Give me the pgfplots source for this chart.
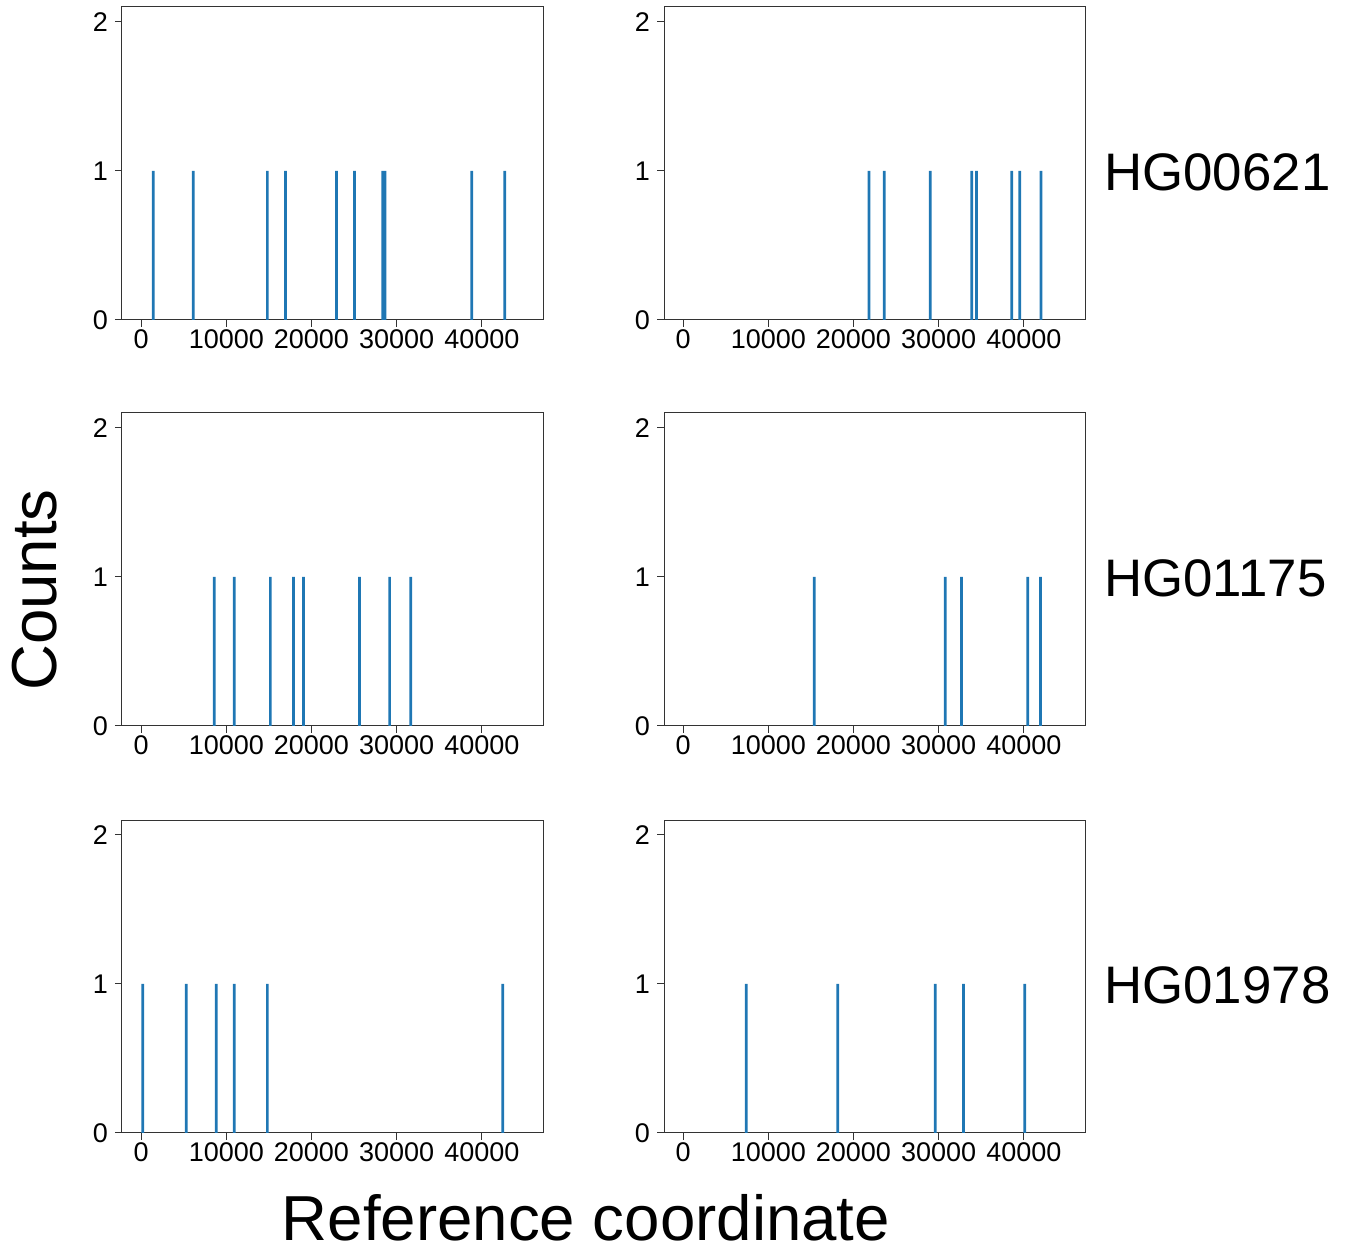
\documentclass[border=0pt]{standalone}
\usepackage{fontspec}
\setmainfont{Liberation Sans}
\usepackage{pgfplots}
\pgfplotsset{compat=1.18}
\definecolor{tabblue}{HTML}{1F77B4}
\pgfplotsset{
  myax/.style={
    scale only axis, width=210.5pt, height=156.5pt,
    anchor=north west,
    xmin=-2247, xmax=47187, ymin=0, ymax=2.1,
    xtick={0,10000,20000,30000,40000}, ytick={0,1,2},
    xticklabels={0,10000,20000,30000,40000},
    scaled x ticks=false,
    /pgf/number format/.cd, 1000 sep={}, assume math mode=true, /pgfplots/.cd,
    tick label style={font=\fontsize{13.5}{16}\selectfont, black},
    xticklabel style={yshift=2pt},
    tick align=outside, xtick pos=bottom, ytick pos=left,
    major tick length=3.5pt,
    tick style={black!80, line width=0.5pt},
    axis line style={black!80, line width=0.5pt},
    ybar, bar width=320,
  },
  mybar/.style={fill=tabblue, draw=none},
}
\begin{document}
\begin{tikzpicture}
\useasboundingbox (0,0) rectangle (675pt,-628pt);
% Row 1
\begin{axis}[myax, at={(61pt,-3.5pt)}]
\addplot[mybar] coordinates {(1412,1) (6118,1) (14824,1) (16941,1) (22941,1) (25059,1) (28360,1) (28640,1) (38824,1) (42706,1)};
\end{axis}
\begin{axis}[myax, at={(332pt,-3.5pt)}]
\addplot[mybar] coordinates {(21811,1) (23622,1) (29016,1) (33898,1) (34449,1) (38583,1) (39528,1) (42008,1)};
\end{axis}
% Row 2
\begin{axis}[myax, at={(61pt,-206.5pt)}]
\addplot[mybar] coordinates {(8588,1) (10941,1) (15176,1) (17882,1) (19059,1) (25647,1) (29176,1) (31647,1)};
\end{axis}
\begin{axis}[myax, at={(332pt,-206.5pt)}]
\addplot[mybar] coordinates {(15394,1) (30787,1) (32677,1) (40472,1) (41969,1)};
\end{axis}
% Row 3
\begin{axis}[myax, at={(61pt,-410pt)}]
\addplot[mybar] coordinates {(196,1) (5294,1) (8824,1) (10941,1) (14824,1) (42471,1)};
\end{axis}
\begin{axis}[myax, at={(332pt,-410pt)}]
\addplot[mybar] coordinates {(7402,1) (18150,1) (29606,1) (32913,1) (40118,1)};
\end{axis}
% Labels
\node[rotate=90, inner sep=0pt, font=\fontsize{31.8}{36}\selectfont] at (17.5pt,-295pt) {Counts};
\node[inner sep=0pt, font=\fontsize{31.8}{36}\selectfont] at (293pt,-609pt) {Reference coordinate};
\node[anchor=west, inner sep=0pt, font=\fontsize{26.4}{30}\selectfont] at (552pt,-86pt) {HG00621};
\node[anchor=west, inner sep=0pt, font=\fontsize{26.4}{30}\selectfont] at (552pt,-289pt) {HG01175};
\node[anchor=west, inner sep=0pt, font=\fontsize{26.4}{30}\selectfont] at (552pt,-492.5pt) {HG01978};
\end{tikzpicture}
\end{document}
